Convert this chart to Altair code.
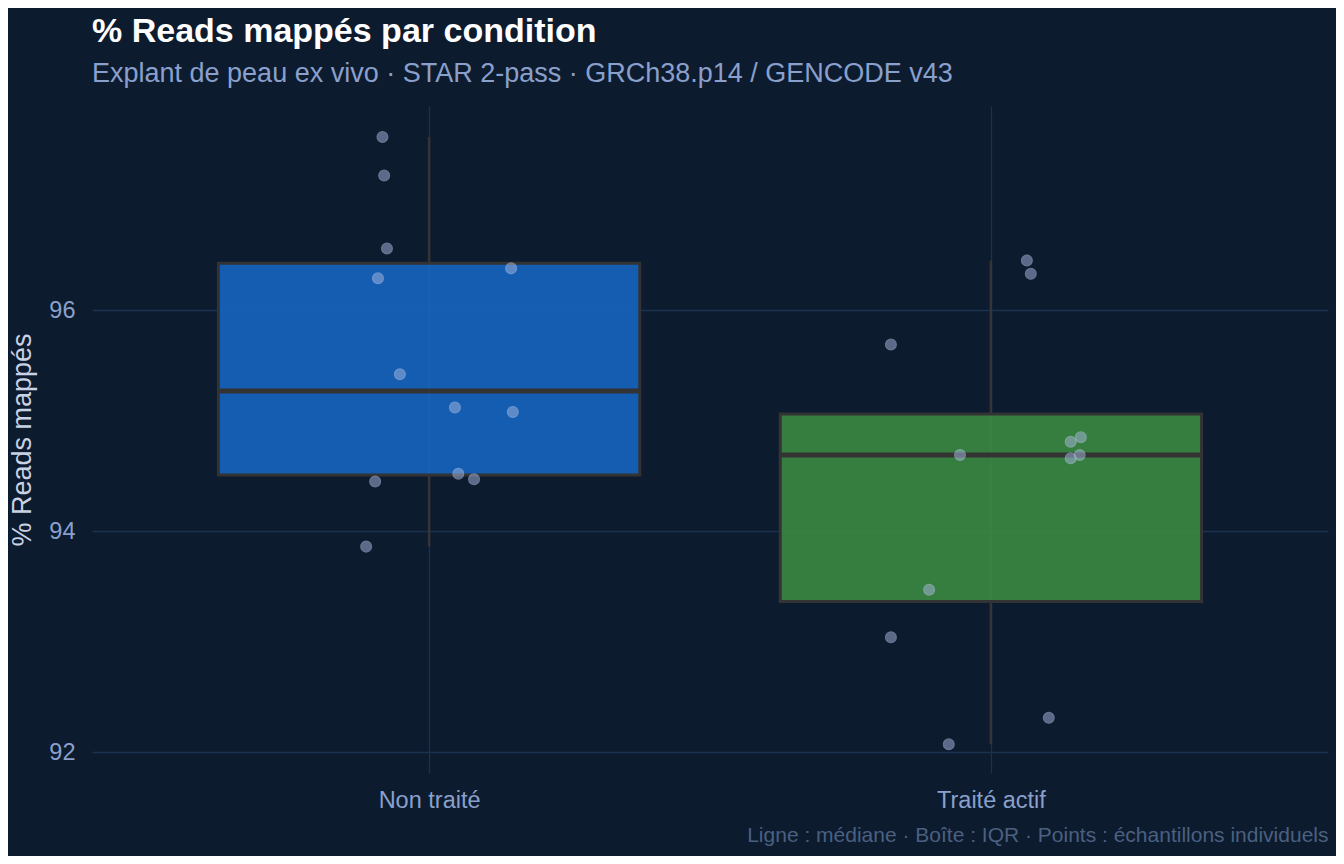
import pandas as pd
import altair as alt

# % mapped reads per sample
non_traite = [97.57, 97.22, 96.56, 96.29, 96.38, 95.42, 95.12, 95.08, 94.52, 94.47, 94.45, 93.86]
traite_actif = [96.45, 96.33, 95.69, 94.69, 94.81, 94.85, 94.69, 94.66, 93.47, 93.04, 92.31, 92.07]
# horizontal jitter, in category units
jitter_nt = [-0.083, -0.080, -0.075, -0.091, 0.146, -0.052, 0.046, 0.149, 0.052, 0.080, -0.096, -0.112]
jitter_ta = [0.064, 0.071, -0.178, -0.055, 0.142, 0.160, 0.158, 0.142, -0.110, -0.178, 0.103, -0.075]

conditions = ["Non traité", "Traité actif"]
box_colors = ["#1565c0", "#3b8942"]

df = pd.DataFrame({
    "condition": [conditions[0]] * len(non_traite) + [conditions[1]] * len(traite_actif),
    "mapped": non_traite + traite_actif,
    "jitter": jitter_nt + jitter_ta,
})

font = "Liberation Sans"
bg = "#0d1b2e"
grid = "#1c304f"
half = 0.375  # half box width, category units

label_expr = "datum.value == 1 ? '%s' : datum.value == 2 ? '%s' : ''" % tuple(conditions)

x_scale = alt.Scale(domain=[0.4, 2.6], nice=False, zero=False)
x_axis = alt.Axis(title="Ligne : médiane · Boîte : IQR · Points : échantillons individuels",
                  titleAnchor="end", titleAlign="right", titleFontSize=21,
                  titleFontWeight="normal", titleColor="#4a6080", titlePadding=13,
                  values=[1, 2], labelExpr=label_expr,
                  labelAngle=0, labelPadding=15, labelFontSize=23.5, labelColor="#8aa0cc",
                  ticks=False, domain=False, grid=True, gridColor=grid, gridWidth=1.3)
y_scale = alt.Scale(domain=[91.81, 97.85], nice=False, zero=False)
y_axis = alt.Axis(title="% Reads mappés", values=[92, 94, 96], format="d",
                  titleFontSize=27, titleFontWeight="normal", titleColor="#c8d2e4",
                  titlePadding=12, labelFontSize=23.5, labelColor="#8aa0cc", labelPadding=17,
                  ticks=False, domain=False, grid=True, gridColor=grid, gridWidth=1.3)

base = alt.Chart(df).transform_calculate(
    pos="indexof(%s, datum.condition) + 1" % str(conditions)
)

stats = base.transform_aggregate(
    lo="min(mapped)", hi="max(mapped)", q1="q1(mapped)", q3="q3(mapped)",
    med="median(mapped)", groupby=["condition", "pos"],
).transform_calculate(left="datum.pos - %f" % half, right="datum.pos + %f" % half)

whisker = stats.mark_rule(color="#353535", strokeWidth=2.5).encode(
    x=alt.X("pos:Q", scale=x_scale, axis=x_axis),
    y=alt.Y("lo:Q", scale=y_scale, axis=y_axis),
    y2="hi:Q",
)

box = stats.mark_rect(stroke="#333333", strokeWidth=3, fillOpacity=0.9).encode(
    x=alt.X("left:Q", scale=x_scale),
    x2="right:Q",
    y=alt.Y("q1:Q", scale=y_scale),
    y2="q3:Q",
    color=alt.Color("condition:N", scale=alt.Scale(domain=conditions, range=box_colors),
                    legend=None),
)

median = stats.mark_rule(color="#333333", strokeWidth=5).encode(
    x=alt.X("left:Q", scale=x_scale),
    x2="right:Q",
    y=alt.Y("med:Q", scale=y_scale),
)

points = base.transform_calculate(xj="datum.pos + datum.jitter").mark_circle(
    size=115, color="#a3b3dc", opacity=0.52, stroke="#b8c6ec", strokeWidth=1.3
).encode(
    x=alt.X("xj:Q", scale=x_scale),
    y=alt.Y("mapped:Q", scale=y_scale),
)

chart = alt.layer(whisker, box, median, points).properties(
    width=1236, height=667,
    autosize=alt.AutoSizeParams(type="none"),
    padding={"left": 84, "top": 98, "right": 8, "bottom": 83},
    background=bg,
    title=alt.TitleParams(
        "% Reads mappés par condition",
        subtitle="Explant de peau ex vivo · STAR 2-pass · GRCh38.p14 / GENCODE v43",
        anchor="start", frame="group", font=font, fontSize=34, fontWeight="bold",
        color="#ffffff", subtitleFont=font, subtitleFontSize=27,
        subtitleColor="#8aa0cc", subtitlePadding=12, offset=19,
    ),
).configure_view(stroke=None).configure_axis(labelFont=font, titleFont=font)

chart.save("out.html", embed_options={"renderer": "svg", "actions": False})
